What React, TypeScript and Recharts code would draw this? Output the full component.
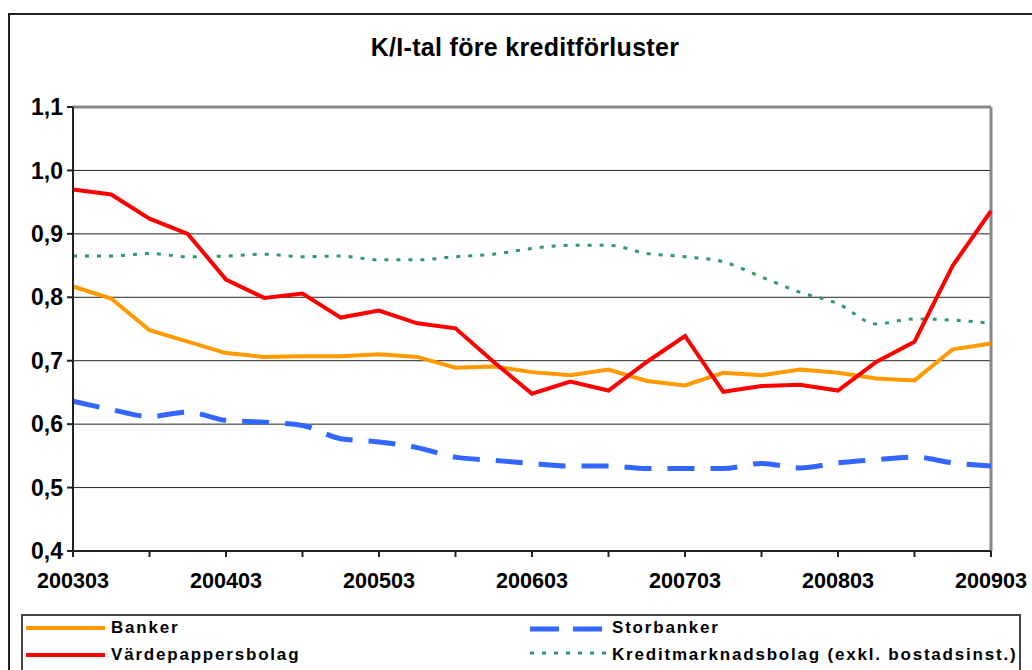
import { LineChart, Line, XAxis, YAxis, CartesianGrid, ReferenceLine } from "recharts";

const quarters = [
  "200303", "200306", "200309", "200312",
  "200403", "200406", "200409", "200412",
  "200503", "200506", "200509", "200512",
  "200603", "200606", "200609", "200612",
  "200703", "200706", "200709", "200712",
  "200803", "200806", "200809", "200812",
  "200903",
];

const banker = [
  0.817, 0.798, 0.748, 0.730, 0.712, 0.706, 0.707, 0.707, 0.710, 0.706, 0.689, 0.691,
  0.682, 0.677, 0.686, 0.668, 0.661, 0.681, 0.677, 0.686, 0.681, 0.672, 0.669, 0.718, 0.727,
];

const storbanker = [
  0.636, 0.623, 0.612, 0.619, 0.606, 0.603, 0.598, 0.577, 0.572, 0.563, 0.548, 0.543,
  0.538, 0.534, 0.534, 0.530, 0.530, 0.530, 0.538, 0.531, 0.539, 0.544, 0.548, 0.539, 0.534,
];

const vardepapper = [
  0.970, 0.962, 0.924, 0.900, 0.828, 0.799, 0.806, 0.768, 0.779, 0.759, 0.751, 0.698,
  0.648, 0.667, 0.653, 0.698, 0.739, 0.651, 0.660, 0.662, 0.653, 0.698, 0.730, 0.850, 0.936,
];

const kreditmarknad = [
  0.865, 0.865, 0.869, 0.864, 0.865, 0.868, 0.864, 0.865, 0.859, 0.859, 0.864, 0.868,
  0.877, 0.882, 0.882, 0.869, 0.864, 0.856, 0.832, 0.808, 0.790, 0.758, 0.766, 0.764, 0.759,
];

const yTicks = [0.4, 0.5, 0.6, 0.7, 0.8, 0.9, 1.0, 1.1];

const data = quarters.map((q, i) => ({
  q,
  banker: banker[i],
  storbanker: storbanker[i],
  vardepapper: vardepapper[i],
  kreditmarknad: kreditmarknad[i],
}));

const FONT = "Arial, 'Liberation Sans', sans-serif";

const legendText: React.CSSProperties = {
  position: "absolute",
  fontFamily: FONT,
  fontWeight: "bold",
  fontSize: 17,
  letterSpacing: 1.8,
  lineHeight: "20px",
  color: "#000",
  whiteSpace: "nowrap",
};

export default function App() {
  return (
    <div style={{ position: "absolute", left: 0, top: 0, width: 1032, height: 670, overflow: "hidden", background: "#fff" }}>
      {/* outer chart frame */}
      <div style={{ position: "absolute", left: 8, top: 13, width: 1100, height: 800, border: "2px solid #222" }} />
      <div
        style={{
          position: "absolute",
          left: 0,
          width: 1050,
          top: 33,
          textAlign: "center",
          fontFamily: FONT,
          fontWeight: "bold",
          fontSize: 25,
          letterSpacing: 0.3,
        }}
      >
        K/I-tal före kreditförluster
      </div>
      <div style={{ position: "absolute", left: 0, top: 0 }}>
        <LineChart width={1032} height={670} data={data} margin={{ top: 107, right: 41, left: 13, bottom: 89 }}>
          <CartesianGrid vertical={false} horizontal={true} stroke="#222" strokeWidth={1} />
          <ReferenceLine y={1.1} stroke="#888" strokeWidth={3} />
          <ReferenceLine x="200903" stroke="#888" strokeWidth={3} />
          <XAxis
            dataKey="q"
            interval={1}
            height={30}
            tickSize={6}
            tickMargin={16}
            stroke="#222"
            strokeWidth={2}
            tickFormatter={(v: string) => (quarters.indexOf(v) % 4 === 0 ? v : "")}
            tick={{ fontFamily: FONT, fontWeight: "bold", fontSize: 21.6, fill: "#000" }}
          />
          <YAxis
            width={60}
            domain={[0.4, 1.1]}
            ticks={yTicks}
            tickSize={6}
            tickMargin={4}
            stroke="#222"
            strokeWidth={2}
            tickFormatter={(v: number) => v.toFixed(1).replace(".", ",")}
            tick={{ fontFamily: FONT, fontWeight: "bold", fontSize: 23, fill: "#000" }}
          />
          <Line dataKey="kreditmarknad" type="monotone" stroke="#2E9966" strokeWidth={3} strokeDasharray="4 8" dot={false} isAnimationActive={false} />
          <Line dataKey="storbanker" type="monotone" stroke="#3366FF" strokeWidth={5} strokeDasharray="27 16" dot={false} isAnimationActive={false} />
          <Line dataKey="banker" type="linear" stroke="#FF9900" strokeWidth={4} dot={false} isAnimationActive={false} />
          <Line dataKey="vardepapper" type="linear" stroke="#FF0000" strokeWidth={4} dot={false} isAnimationActive={false} />
        </LineChart>
      </div>
      {/* legend */}
      <div style={{ position: "absolute", left: 21, top: 614, width: 996, height: 100, border: "2px solid #444" }} />
      <svg style={{ position: "absolute", left: 0, top: 0 }} width={1032} height={670}>
        <line x1={26} x2={105} y1={628} y2={628} stroke="#FF9900" strokeWidth={4} />
        <line x1={26} x2={105} y1={655} y2={655} stroke="#FF0000" strokeWidth={4} />
        <line x1={530} x2={602} y1={629} y2={629} stroke="#3366FF" strokeWidth={5} strokeDasharray="29 14" />
        <line x1={530} x2={606} y1={653} y2={653} stroke="#2E9966" strokeWidth={3} strokeDasharray="4 8" />
      </svg>
      <div style={{ ...legendText, left: 111, top: 618 }}>Banker</div>
      <div style={{ ...legendText, left: 111, top: 645 }}>Värdepappersbolag</div>
      <div style={{ ...legendText, left: 612, top: 618 }}>Storbanker</div>
      <div style={{ ...legendText, left: 612, top: 645 }}>Kreditmarknadsbolag (exkl. bostadsinst.)</div>
    </div>
  );
}
